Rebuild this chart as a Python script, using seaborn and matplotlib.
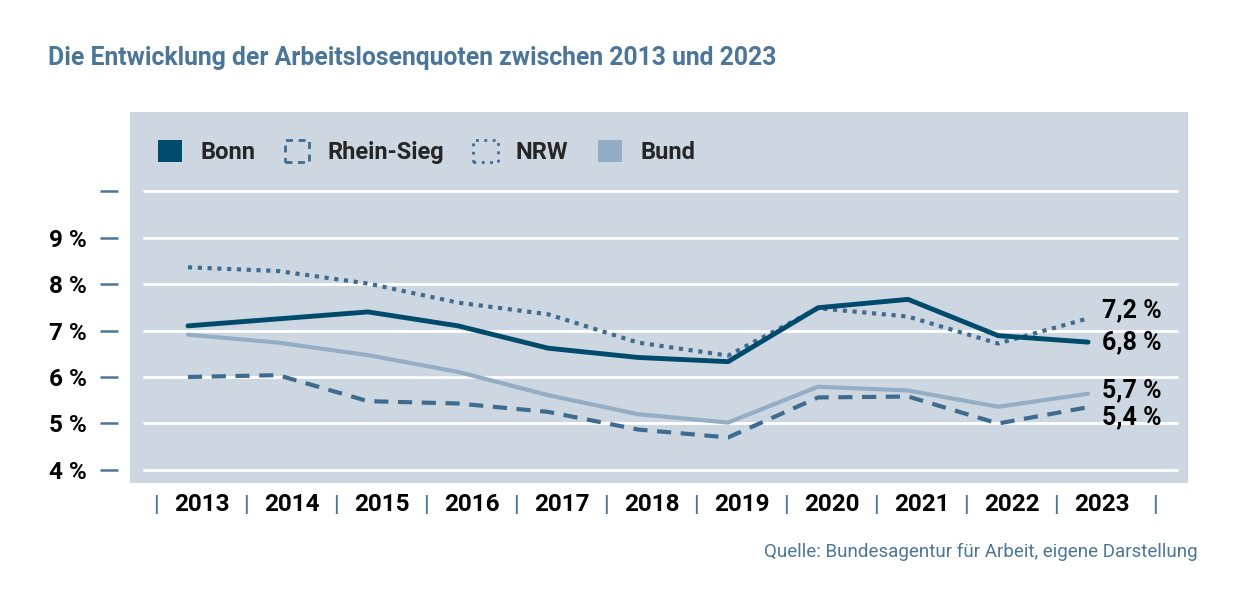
import seaborn as sns
import matplotlib.pyplot as plt
from matplotlib.patches import Patch
import matplotlib.transforms as mtransforms
import pandas as pd

years = [2013, 2014, 2015, 2016, 2017, 2018, 2019, 2020, 2021, 2022, 2023]
bonn = [7.1, 7.25, 7.4, 7.1, 6.62, 6.42, 6.33, 7.49, 7.67, 6.89, 6.75]
rhein_sieg = [6.0, 6.04, 5.48, 5.43, 5.25, 4.87, 4.7, 5.56, 5.58, 5.0, 5.35]
nrw = [8.36, 8.28, 8.01, 7.6, 7.35, 6.74, 6.46, 7.48, 7.3, 6.72, 7.26]
bund = [6.91, 6.74, 6.47, 6.11, 5.61, 5.2, 5.02, 5.79, 5.71, 5.36, 5.64]
end_labels = {"NRW": "7,2 %", "Bonn": "6,8 %", "Bund": "5,7 %", "Rhein-Sieg": "5,4 %"}
y_ticks = [4, 5, 6, 7, 8, 9, 10]
y_ticklabels = ["4 %", "5 %", "6 %", "7 %", "8 %", "9 %", ""]

df = pd.DataFrame({"Jahr": years, "Bonn": bonn, "Rhein-Sieg": rhein_sieg,
                   "NRW": nrw, "Bund": bund})

c_bonn = "#004a6b"
c_rs = "#3f6b8e"
c_nrw = "#3f6b8e"
c_bund = "#93adc5"
c_bg = "#cdd7e2"
c_accent = "#4b7699"

sns.set_theme(style="white")
plt.rcParams["font.family"] = ["Roboto", "DejaVu Sans"]

fig = plt.figure(figsize=(12.48, 6.09), dpi=100)
ax = fig.add_axes([130 / 1248, 126 / 609, 1058 / 1248, 371 / 609])
ax.set_facecolor(c_bg)
for s in ax.spines.values():
    s.set_visible(False)

ax.set_xlim(2012.356, 2024.11)
ax.set_ylim(3.72, 11.7)

# white grid lines
ax.hlines(y_ticks, 2012.5, 2024.0, color="white", lw=2, zorder=1)

sns.lineplot(data=df, x="Jahr", y="Bund", ax=ax, color=c_bund, lw=3, zorder=3)
sns.lineplot(data=df, x="Jahr", y="Rhein-Sieg", ax=ax, color=c_rs, lw=3,
             linestyle=(0, (3.4, 2.3)), zorder=4)
sns.lineplot(data=df, x="Jahr", y="NRW", ax=ax, color=c_nrw, lw=3,
             linestyle=(0, (1, 1.35)), zorder=5)
sns.lineplot(data=df, x="Jahr", y="Bonn", ax=ax, color=c_bonn, lw=3.5, zorder=6)

# end value labels
offsets = {"NRW": 8, "Bonn": 0, "Bund": 4, "Rhein-Sieg": -10}
for name, txt in end_labels.items():
    ax.annotate(txt, xy=(years[-1], df[name].iloc[-1]), xytext=(14, offsets[name]),
                textcoords="offset pixels", ha="left", va="center",
                fontsize=18, fontweight="bold", color="black")

# y axis: short dashes left of the panel
ax.spines["left"].set_position(("outward", 8.6))
ax.set_yticks(y_ticks)
ax.set_yticklabels(y_ticklabels, fontsize=17.5, fontweight="bold", color="black")
ax.tick_params(axis="y", which="major", left=True, length=13, width=1.8,
               color=c_accent, pad=9.4)

# x axis labels with separators
ax.set_xticks([])
trans = mtransforms.blended_transform_factory(ax.transData, ax.transAxes)
for yr in years:
    ax.text(yr + 0.15, -0.059, str(yr), transform=trans, ha="center", va="center",
            fontsize=17.5, fontweight="bold", color="black")
    ax.text(yr - 0.36, -0.059, "|", transform=trans, ha="center", va="center",
            fontsize=16, fontweight="bold", color=c_accent)
ax.text(years[-1] + 0.74, -0.059, "|", transform=trans, ha="center", va="center",
        fontsize=16, fontweight="bold", color=c_accent)
ax.set_xlabel("")
ax.set_ylabel("")

# legend
handles = [
    Patch(facecolor=c_bonn, edgecolor="none"),
    Patch(facecolor="none", edgecolor=c_rs, linestyle=(0, (2.5, 2)), lw=2),
    Patch(facecolor="none", edgecolor=c_nrw, linestyle=(0, (1, 2)), lw=2),
    Patch(facecolor=c_bund, edgecolor="none"),
]
ax.legend(handles, ["Bonn", "Rhein-Sieg", "NRW", "Bund"], loc="upper left",
          bbox_to_anchor=(0.026, 0.925), ncol=4, frameon=False,
          prop={"size": 17, "weight": "bold"}, handlelength=1.05, handleheight=1.05,
          handletextpad=0.75, columnspacing=1.25, borderpad=0, borderaxespad=0)

fig.text(48 / 1248, 1 - 58 / 609, "Die Entwicklung der Arbeitslosenquoten zwischen 2013 und 2023",
         ha="left", va="center", fontsize=17.8, fontweight="bold", color=c_accent)
fig.text(1198 / 1248, 1 - 552 / 609, "Quelle: Bundesagentur für Arbeit, eigene Darstellung",
         ha="right", va="center", fontsize=13.5, color=c_accent)

fig.savefig("out.png", dpi=100, facecolor="white")
